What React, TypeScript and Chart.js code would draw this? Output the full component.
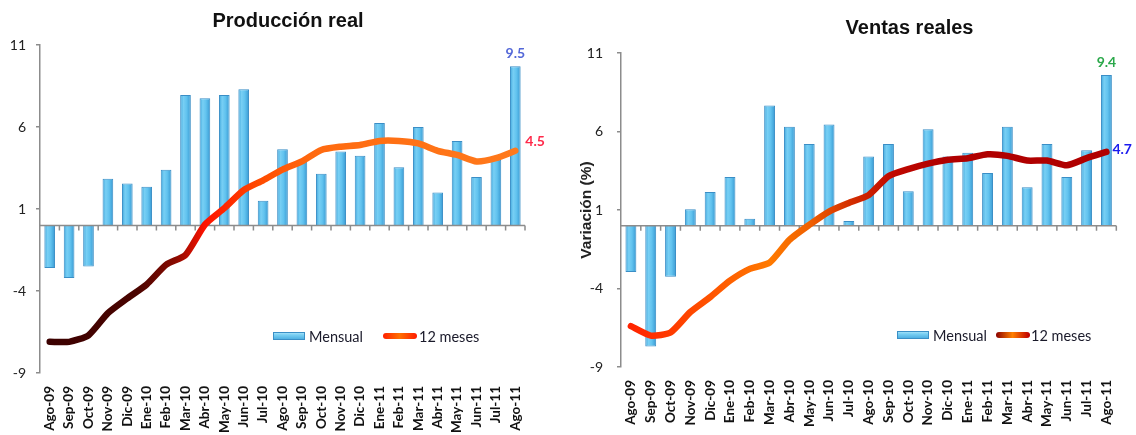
import React, { useEffect, useRef } from "react";
import { Chart, registerables } from "chart.js";

Chart.register(...registerables);

// ---------- data ----------
const months = [
  "Ago-09", "Sep-09", "Oct-09", "Nov-09", "Dic-09",
  "Ene-10", "Feb-10", "Mar-10", "Abr-10", "May-10", "Jun-10", "Jul-10",
  "Ago-10", "Sep-10", "Oct-10", "Nov-10", "Dic-10",
  "Ene-11", "Feb-11", "Mar-11", "Abr-11", "May-11", "Jun-11", "Jul-11", "Ago-11",
];

const prodMensual = [-2.6, -3.2, -2.5, 2.85, 2.55, 2.35, 3.4, 7.95, 7.75, 7.95, 8.3, 1.5, 4.65, 3.9, 3.15, 4.5, 4.25, 6.25, 3.55, 6.0, 2.0, 5.15, 2.95, 4.0, 9.7];
const prod12Meses = [-7.1, -7.1, -6.7, -5.35, -4.45, -3.6, -2.4, -1.8, 0.05, 1.05, 2.15, 2.75, 3.4, 3.9, 4.6, 4.8, 4.9, 5.15, 5.15, 5.0, 4.55, 4.3, 3.9, 4.1, 4.55];
const prodNotes = ["9.5", "4.5"];

const ventasMensual = [-2.95, -7.7, -3.25, 1.05, 2.15, 3.1, 0.45, 7.65, 6.3, 5.2, 6.45, 0.3, 4.4, 5.2, 2.2, 6.15, 4.4, 4.65, 3.35, 6.3, 2.45, 5.2, 3.1, 4.8, 9.6];
const ventas12Meses = [-6.4, -7.0, -6.8, -5.5, -4.55, -3.5, -2.75, -2.35, -0.9, 0.05, 0.9, 1.45, 1.95, 3.15, 3.6, 3.95, 4.2, 4.3, 4.55, 4.45, 4.15, 4.15, 3.85, 4.3, 4.7];
const ventasNotes = ["9.4", "4.7"];

const yMin = -9;
const yMax = 11;
const yStep = 5;

const legendLabels = ["Mensual", "12 meses"];

// ---------- config ----------
type Stops = [number, string][];

type Setup = {
  title: string;
  titleX: number;
  titleY: number;
  yTitle?: string;
  yTitleX?: number;
  bars: number[];
  line: number[];
  lineStops: Stops;
  legendLineStops: Stops;
  legendX: [number, number, number, number];
  legendY: number;
  notes: string[];
  noteColors: [string, string];
  barNoteDy: number;
  lineNoteDx: number;
  lineNoteDy: number;
  padTop: number;
  padRight: number;
  yWidth: number;
  xHeight: number;
  yTickPad: number;
  xTickPad: number;
};

const AXIS = "#8c8c8c";

function makeGradient(ctx: CanvasRenderingContext2D, x0: number, x1: number, stops: Stops) {
  const g = ctx.createLinearGradient(x0, 0, x1, 0);
  stops.forEach(([o, c]) => g.addColorStop(o, c));
  return g;
}

function buildConfig(s: Setup): any {
  const decor = {
    id: "decor",
    afterDatasetDraw(chart: any, args: any) {
      if (args.index !== 0) return;
      const ctx = chart.ctx as CanvasRenderingContext2D;
      const a = chart.chartArea;
      const y0 = chart.scales.y.getPixelForValue(0);
      const n = months.length;
      ctx.save();
      ctx.strokeStyle = AXIS;
      ctx.lineWidth = 1.5;
      ctx.beginPath();
      ctx.moveTo(a.left, y0);
      ctx.lineTo(a.right, y0);
      for (let i = 1; i <= n; i++) {
        const x = a.left + (i * (a.right - a.left)) / n;
        ctx.moveTo(x, y0);
        ctx.lineTo(x, y0 + 5);
      }
      ctx.stroke();
      ctx.restore();
    },
    afterDraw(chart: any) {
      const ctx = chart.ctx as CanvasRenderingContext2D;
      ctx.save();
      // title
      ctx.fillStyle = "#111";
      ctx.font = "bold 20px 'Liberation Sans', Arial, sans-serif";
      ctx.textAlign = "center";
      ctx.textBaseline = "middle";
      ctx.fillText(s.title, s.titleX, s.titleY);
      // y title
      if (s.yTitle) {
        ctx.save();
        const a = chart.chartArea;
        ctx.translate(s.yTitleX as number, (a.top + a.bottom) / 2);
        ctx.rotate(-Math.PI / 2);
        ctx.font = "bold 15.5px 'Liberation Sans', Arial, sans-serif";
        ctx.fillStyle = "#222";
        ctx.fillText(s.yTitle, 0, 0);
        ctx.restore();
      }
      // legend
      const [bx, btx, lx, ltx] = s.legendX;
      const ly = s.legendY;
      const bg = ctx.createLinearGradient(0, ly - 4, 0, ly + 4);
      bg.addColorStop(0, "#b8e9fb");
      bg.addColorStop(0.35, "#7ad0f3");
      bg.addColorStop(1, "#45a9de");
      ctx.fillStyle = bg;
      ctx.fillRect(bx, ly - 4, 32, 8);
      ctx.strokeStyle = "#3a8fc6";
      ctx.lineWidth = 1;
      ctx.strokeRect(bx + 0.5, ly - 3.5, 31, 7);
      ctx.lineCap = "round";
      ctx.lineWidth = 6;
      ctx.strokeStyle = makeGradient(ctx, lx, lx + 33, s.legendLineStops);
      ctx.beginPath();
      ctx.moveTo(lx + 3, ly);
      ctx.lineTo(lx + 31, ly);
      ctx.stroke();
      ctx.fillStyle = "#1a1a2a";
      ctx.font = "14.5px Lato, sans-serif";
      ctx.textAlign = "left";
      ctx.fillText(legendLabels[0], btx, ly + 1);
      ctx.fillText(legendLabels[1], ltx, ly + 1);
      // notes
      const barMeta = chart.getDatasetMeta(0);
      const lineMeta = chart.getDatasetMeta(1);
      const lb = barMeta.data[barMeta.data.length - 1];
      const lp = lineMeta.data[lineMeta.data.length - 1];
      ctx.font = "bold 14px Lato, sans-serif";
      ctx.textAlign = "center";
      ctx.fillStyle = s.noteColors[0];
      ctx.fillText(s.notes[0], lb.x, lb.y + s.barNoteDy);
      ctx.textAlign = "left";
      ctx.fillStyle = s.noteColors[1];
      ctx.fillText(s.notes[1], lp.x + s.lineNoteDx, lp.y + s.lineNoteDy);
      ctx.restore();
    },
  };

  const barFill = (c: any) => {
    const chart = c.chart;
    const xs = chart.scales?.x;
    if (c.type !== "data" || !xs || !chart.chartArea) return "#5ec0ee";
    const x = xs.getPixelForValue(c.dataIndex);
    const hw = ((xs.width / months.length) * 0.55) / 2;
    const g = chart.ctx.createLinearGradient(x - hw, 0, x + hw, 0);
    g.addColorStop(0, "#3fa6dc");
    g.addColorStop(0.3, "#78cff4");
    g.addColorStop(0.6, "#62c3ef");
    g.addColorStop(1, "#3899d2");
    return g;
  };

  const lineColor = (c: any) => {
    const chart = c.chart;
    const a = chart.chartArea;
    if (!a) return s.lineStops[0][1];
    return makeGradient(chart.ctx, a.left, a.right, s.lineStops);
  };

  return {
    type: "bar",
    data: {
      labels: months,
      datasets: [
        {
          type: "bar",
          label: legendLabels[0],
          data: s.bars,
          order: 2,
          backgroundColor: barFill,
          borderColor: "#3a8ec6",
          borderWidth: 1,
          barPercentage: 0.55,
          categoryPercentage: 1,
        },
        {
          type: "line",
          label: legendLabels[1],
          data: s.line,
          order: 1,
          borderColor: lineColor,
          borderWidth: 6.5,
          pointRadius: 0,
          tension: 0.2,
          borderCapStyle: "round",
          borderJoinStyle: "round",
          fill: false,
        },
      ],
    },
    options: {
      animation: false,
      responsive: true,
      maintainAspectRatio: false,
      devicePixelRatio: 1,
      layout: { padding: { left: 0, top: s.padTop, right: s.padRight, bottom: 0 } },
      plugins: {
        legend: { display: false },
        title: { display: false },
        tooltip: { enabled: false },
      },
      scales: {
        x: {
          type: "category",
          offset: true,
          grid: { display: false, drawTicks: false },
          border: { display: false },
          ticks: {
            autoSkip: false,
            minRotation: 90,
            maxRotation: 90,
            padding: s.xTickPad,
            color: "#111",
            font: { family: "Lato", weight: "bold", size: 13.5 },
          },
          afterFit: (sc: any) => {
            sc.height = s.xHeight;
          },
        },
        y: {
          min: yMin,
          max: yMax,
          ticks: {
            stepSize: yStep,
            padding: s.yTickPad,
            color: "#222",
            font: { family: "Lato", size: 14 },
          },
          grid: { drawOnChartArea: false, drawTicks: true, tickLength: 4, color: AXIS, lineWidth: 1.5 },
          border: { display: true, color: AXIS, width: 1.5 },
          afterFit: (sc: any) => {
            sc.width = s.yWidth;
          },
        },
      },
    },
    plugins: [decor],
  };
}

const leftSetup: Setup = {
  title: "Producción real",
  titleX: 288,
  titleY: 21,
  bars: prodMensual,
  line: prod12Meses,
  lineStops: [
    [0, "#3a0000"],
    [0.2, "#4a0400"],
    [0.28, "#8a0a00"],
    [0.34, "#ff1200"],
    [0.45, "#ff4a00"],
    [0.56, "#ff6a10"],
    [1, "#ff7a1c"],
  ],
  legendLineStops: [
    [0, "#ff2000"],
    [0.5, "#ff7000"],
    [1, "#ff2000"],
  ],
  legendX: [273, 309, 383, 419],
  legendY: 336,
  notes: prodNotes,
  noteColors: ["#5468d8", "#ff2a4a"],
  barNoteDy: -13,
  lineNoteDx: 10,
  lineNoteDy: -9,
  padTop: 45,
  padRight: 43,
  yWidth: 40,
  xHeight: 62,
  yTickPad: 10,
  xTickPad: 13,
};

const rightSetup: Setup = {
  title: "Ventas reales",
  titleX: 341.5,
  titleY: 28,
  yTitle: "Variación (%)",
  yTitleX: 19,
  bars: ventasMensual,
  line: ventas12Meses,
  lineStops: [
    [0, "#ff1e00"],
    [0.15, "#ff4a00"],
    [0.3, "#ff7a00"],
    [0.38, "#f06000"],
    [0.46, "#d43000"],
    [0.55, "#c00800"],
    [0.65, "#b00000"],
    [1, "#b00000"],
  ],
  legendLineStops: [
    [0, "#8a0000"],
    [0.5, "#ff8000"],
    [1, "#c00000"],
  ],
  legendX: [329, 365, 428, 463],
  legendY: 335,
  notes: ventasNotes,
  noteColors: ["#2aa84a", "#1a1aee"],
  barNoteDy: -12,
  lineNoteDx: 6,
  lineNoteDy: -2,
  padTop: 53,
  padRight: 19,
  yWidth: 53,
  xHeight: 68,
  yTickPad: 14,
  xTickPad: 13,
};

function ChartPanel({ setup }: { setup: Setup }) {
  const ref = useRef<HTMLCanvasElement | null>(null);
  useEffect(() => {
    if (!ref.current) return;
    const chart = new Chart(ref.current, buildConfig(setup));
    return () => chart.destroy();
  }, [setup]);
  return (
    <div style={{ position: "relative", width: 568, height: 435 }}>
      <canvas ref={ref} />
    </div>
  );
}

export default function App() {
  return (
    <div
      style={{
        position: "absolute",
        left: 0,
        top: 0,
        width: 1136,
        height: 435,
        display: "flex",
        background: "#fff",
      }}
    >
      <ChartPanel setup={leftSetup} />
      <ChartPanel setup={rightSetup} />
    </div>
  );
}
